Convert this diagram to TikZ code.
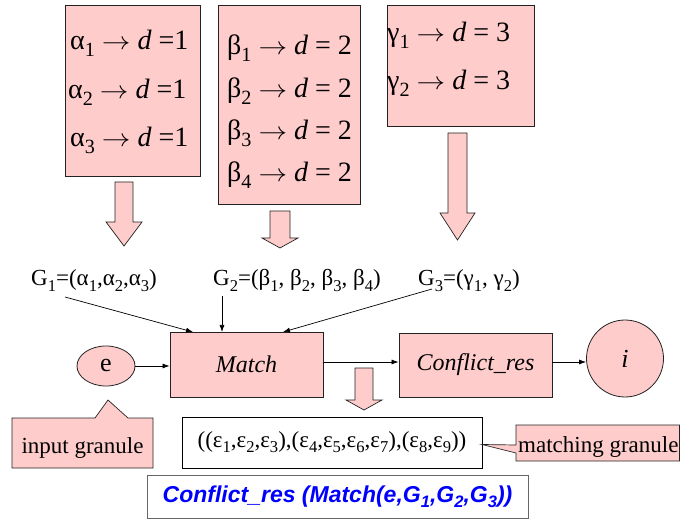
\documentclass[tikz,border=0pt]{standalone}
\usepackage{fontspec}
\usepackage{graphicx}
\setmainfont{Liberation Serif}
\setsansfont{Liberation Sans}
\usetikzlibrary{arrows.meta,calc,shapes.geometric}
\definecolor{pinkf}{HTML}{FFCCCC}
\definecolor{bord}{HTML}{222222}
\definecolor{fblue}{HTML}{0000FF}
\newcommand{\sbx}[1]{\raisebox{-0.22em}{\scalebox{0.72}{#1}}}
\newcommand{\rarr}{\scalebox{1.15}[1]{$\rightarrow$}}
\begin{document}
\begin{tikzpicture}[x=1pt,y=-1pt,
  pbox/.style={draw=bord,fill=pinkf,line width=0.8pt,inner sep=0pt},
  barrow/.style={draw=bord,fill=pinkf,line width=0.7pt,line join=miter},
  rline/.style={font=\fontsize{28}{30}\selectfont,anchor=base west,inner sep=0pt},
  glab/.style={font=\fontsize{23}{26}\selectfont,anchor=base west,inner sep=0pt},
  conn/.style={draw=black,line width=0.7pt,-{Latex[length=7pt,width=5pt]}},
  proc/.style={pbox,font=\fontsize{24}{26}\selectfont\itshape}
]
\useasboundingbox (0,0) rectangle (680,521);

% rule boxes
\node[pbox,minimum width=135pt,minimum height=171pt] (boxa) at (132.5,90.5) {};
\node[pbox,minimum width=142pt,minimum height=199pt] (boxb) at (289,104.5) {};
\node[pbox,minimum width=147pt,minimum height=121pt] (boxc) at (460.5,65.5) {};

\node[rline] (a1) at (70,50) {α\sbx{1} \rarr{} \textit{d} =1};
\node[rline] (a2) at (68,99) {α\sbx{2} \rarr{} \textit{d} =1};
\node[rline] (a3) at (70,147) {α\sbx{3} \rarr{} \textit{d} =1};

\node[rline] (b1) at (227,55) {β\sbx{1} \rarr{} \textit{d} = 2};
\node[rline] (b2) at (227,98) {β\sbx{2} \rarr{} \textit{d} = 2};
\node[rline] (b3) at (227,140) {β\sbx{3} \rarr{} \textit{d} = 2};
\node[rline] (b4) at (227,182) {β\sbx{4} \rarr{} \textit{d} = 2};

\node[rline] (c1) at (387,42) {γ\sbx{1} \rarr{} \textit{d} = 3};
\node[rline] (c2) at (387,90) {γ\sbx{2} \rarr{} \textit{d} = 3};

% block arrows
\draw[barrow] (115,182) -- (133,182) -- (133,222) -- (142,222) -- (124,246) -- (106,222) -- (115,222) -- cycle;
\draw[barrow] (270,211) -- (290,211) -- (290,238) -- (298,238) -- (280,248) -- (262,238) -- (270,238) -- cycle;
\draw[barrow] (448,133) -- (467,133) -- (467,213) -- (475,213) -- (457.5,240) -- (440,213) -- (448,213) -- cycle;
\draw[barrow] (355,368) -- (373,368) -- (373,400) -- (382,400) -- (364,410) -- (346,400) -- (355,400) -- cycle;

% granule labels
\node[glab] (g1) at (31,286) {G\sbx{1}=(α\sbx{1},α\sbx{2},α\sbx{3})};
\node[glab] (g2) at (213,286) {G\sbx{2}=(β\sbx{1}, β\sbx{2}, β\sbx{3}, β\sbx{4})};
\node[glab] (g3) at (418,286) {G\sbx{3}=(γ\sbx{1}, γ\sbx{2})};

% process nodes
\node[proc,minimum width=153pt,minimum height=65pt] (match) at (246.5,364.5) {Match};
\node[proc,minimum width=153pt,minimum height=64pt] (cr) at (475.5,365) {Conflict\_res};
\node[pbox,ellipse,minimum width=58pt,minimum height=40pt,font=\fontsize{26}{28}\selectfont] (e) at (106,366) {e};
\node[pbox,circle,minimum size=77pt,font=\fontsize{26}{28}\selectfont\itshape] (i) at (625,358.5) {i};

% connectors
\coordinate (g1s) at (65,297);
\coordinate (g2s) at (222,296);
\coordinate (g3s) at (432,289);
\coordinate (m1) at (193,332);
\coordinate (m2) at (222,332);
\coordinate (m3) at (283,332);
\draw[conn] (g1s) -- (m1);
\draw[conn] (g2s) -- (m2);
\draw[conn] (g3s) -- (m3);
\draw[conn] (e.east) -- (e.east -| match.west);
\draw[conn] (match.east |- 0,362) -- (cr.west |- 0,362);
\draw[conn] (cr.east |- 0,362) -- (i.west |- 0,362);

% result box
\node[draw=black,fill=white,line width=0.8pt,minimum width=300pt,minimum height=51pt,inner sep=0pt,font=\fontsize{23}{26}\selectfont] (res) at (332,442.5)
  {((ε\sbx{1},ε\sbx{2},ε\sbx{3}),(ε\sbx{4},ε\sbx{5},ε\sbx{6},ε\sbx{7}),(ε\sbx{8},ε\sbx{9}))};

% callouts
\draw[barrow] (12,418) -- (95,418) -- (108,400) -- (128,418) -- (153,418) -- (153,468) -- (12,468) -- cycle;
\node[font=\fontsize{23}{26}\selectfont,inner sep=0pt,anchor=base] (ig) at (82.5,453) {input granule};
\draw[barrow] (516,425) -- (679.5,425) -- (679.5,461) -- (516,461) -- (516,453) -- (482,444.5) -- (516,445) -- cycle;
\node[font=\fontsize{23}{26}\selectfont,inner sep=0pt,anchor=base west] (mg) at (518,452) {matching granule};

% formula
\node[draw=black!60,fill=white,line width=0.9pt,minimum width=381pt,minimum height=43pt,inner sep=0pt,
  font=\fontsize{23}{25}\sffamily\bfseries\itshape,text=fblue] (form) at (337.5,496.5)
  {Conflict\_res (Match(e,G\sbx{1},G\sbx{2},G\sbx{3}))};
\end{tikzpicture}
\end{document}
